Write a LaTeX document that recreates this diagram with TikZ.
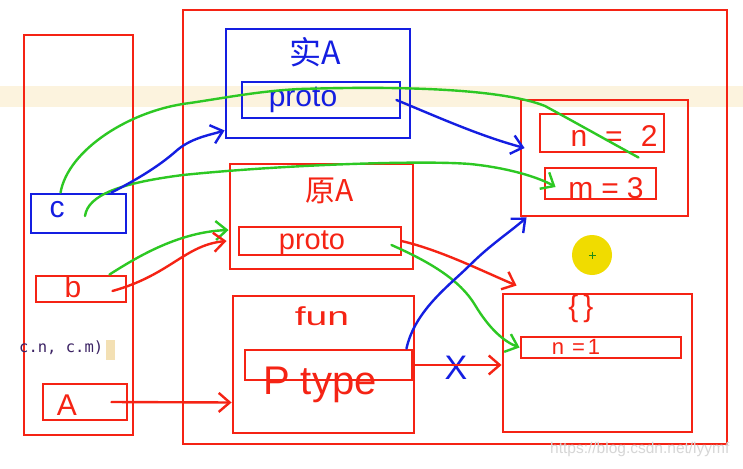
\documentclass[tikz,border=0pt]{standalone}
\usepackage{fontspec}
\setmainfont{Liberation Sans}
\newfontfamily\cjk{Noto Sans CJK SC}
\setmonofont{DejaVu Sans Mono}
\usetikzlibrary{arrows.meta,fit}
\definecolor{hred}{RGB}{245,35,20}
\definecolor{hblue}{RGB}{20,30,225}
\definecolor{hgreen}{RGB}{45,200,35}
\definecolor{bandc}{RGB}{252,243,222}
\definecolor{codec}{RGB}{60,35,100}
\definecolor{cursorc}{RGB}{243,224,180}
\definecolor{wmc}{RGB}{214,214,214}
\definecolor{yelc}{RGB}{240,220,0}
\begin{document}
\begin{tikzpicture}[x=1pt,y=-1pt,
  rbox/.style={draw=hred, line width=2.9pt, inner sep=0pt},
  bbox/.style={draw=hblue, line width=2.9pt, inner sep=0pt},
  lbl/.style={inner sep=0pt},
  conn/.style={line width=2.4pt, line cap=round, line join=round},
  harrow/.style={-{Straight Barb[length=11pt,width=19pt]}},
  rline/.style={conn, hred},
  bline/.style={conn, hblue},
  gline/.style={conn, hgreen}]
\useasboundingbox (0,0) rectangle (743,468);
\fill[white] (0,0) rectangle (743,468);
\fill[bandc] (0,86) rectangle (743,107);
% left stack
\node[rbox, fit={(24,35) (133,435)}] (left) {};
\node[bbox, fit={(31,194) (126,233)}] (cbox) {};
\node[rbox, fit={(36,276) (126,302)}] (bbox) {};
\node[rbox, fit={(43,384) (127,420)}] (abox) {};
\node[lbl, text=hblue, font=\fontsize{30}{30}\selectfont] (cl) at (57,210) {c};
\node[lbl, text=hred, font=\fontsize{30}{30}\selectfont] (bl) at (73,287) {b};
\node[lbl, text=hred, font=\fontsize{30}{30}\selectfont] (al) at (67,405) {A};
\fill[cursorc] (106,340) rectangle (115,360);
\node[lbl, anchor=west, text=codec, font=\ttfamily\fontsize{15.5}{15.5}\selectfont] (code) at (19,348) {c.n, c.m)};
% right area
\node[rbox, fit={(183,10) (727,444)}] (outer) {};
\node[bbox, fit={(226,29) (410,138)}] (inst) {};
\node[bbox, fit={(242,82) (400,118)}] (protoB) {};
\node[rbox, fit={(230,164) (413,269)}] (protoA) {};
\node[rbox, fit={(239,227) (401,255)}] (protoR) {};
\node[rbox, fit={(233,296) (414,433)}] (fun) {};
\node[rbox, fit={(245,350) (412,380)}] (ptype) {};
\node[rbox, fit={(521,100) (688,216)}] (nm) {};
\node[rbox, fit={(540,114) (664,152)}] (n2) {};
\node[rbox, fit={(545,168) (656,199)}] (m3) {};
\node[rbox, fit={(503,294) (692,432)}] (obj) {};
\node[rbox, fit={(521,337) (681,358)}] (n1) {};
\node[lbl, text=hblue, font=\cjk\fontsize{32}{32}\selectfont] (instl) at (315,52) {实A};
\node[lbl, text=hblue, font=\fontsize{30}{30}\selectfont] (protoBl) at (303,100) {proto};
\node[lbl, text=hred, font=\cjk\fontsize{30}{30}\selectfont] (protoAl) at (330,191) {原A};
\node[lbl, text=hred, font=\fontsize{29}{29}\selectfont] (protoRl) at (312,243) {proto};
\node[lbl, text=hred, font=\fontsize{26}{26}\selectfont, xscale=1.5] (funl) at (322,316) {fun};
\node[lbl, anchor=base west, text=hred, font=\fontsize{40}{40}\selectfont] (ptypel) at (263,394) {P type};
\node[lbl, text=hred, font=\fontsize{30}{30}\selectfont] (n2l) at (614,136) {n\hspace{18pt}=\hspace{18pt}2};
\node[lbl, text=hred, font=\fontsize{30}{30}\selectfont] (m3l) at (606,188) {m\hspace{8pt}=\hspace{8pt}3};
\node[lbl, text=hred, font=\fontsize{30}{30}\selectfont] (objl) at (581,309) {\{\,\}};
\node[lbl, text=hred, font=\fontsize{22}{22}\selectfont] (n1l) at (576,347) {n\hspace{8pt}=\hspace{3pt}1};
\node[lbl, text=hblue, font=\fontsize{34}{34}\selectfont] (xl) at (456,368) {X};
% cursor highlight
\fill[yelc] (592,255) circle (20);
\draw[hgreen!70!black, line width=0.8pt] (588.5,255) -- (595.5,255) (592,251.5) -- (592,258.5);
% connectors
\draw[gline] ([xshift=31pt]cbox.north west) .. controls (68,150) and (130,110) .. (190,103)
  .. controls (230,97) and (260,91) .. (300,89)
  .. controls (430,85) and (510,92) .. (545,106)
  .. controls (580,125) and (610,142) .. ([xshift=-27pt,yshift=-4pt]n2.south east);
\draw[gline, harrow] ([xshift=6.5pt,yshift=-2.5pt]cbox.center) .. controls (88,195) and (120,183) .. (183,175)
  .. controls (280,165) and (420,160) .. (470,164)
  .. controls (510,168) and (540,178) .. ([xshift=12pt,yshift=-3.5pt]m3.west);
\draw[bline, harrow] ([xshift=-16pt]cbox.north east) .. controls (140,178) and (160,165) .. (175,152)
  .. controls (190,138) and (210,135) .. ([yshift=9pt]inst.south west);
\draw[bline, harrow] ([xshift=-5pt]protoB.east) .. controls (440,118) and (480,136) .. ([xshift=5pt,yshift=10pt]nm.west);
\draw[gline, harrow] ([xshift=-18pt]bbox.north east) .. controls (140,255) and (180,232) .. ([xshift=-9pt,yshift=11pt]protoR.west);
\draw[rline, harrow] ([xshift=-15pt,yshift=-2pt]bbox.east) .. controls (170,275) and (185,245) .. ([xshift=-11pt]protoR.west);
\draw[rline, harrow] ([xshift=-1pt]protoR.east) .. controls (440,250) and (480,270) .. ([xshift=15pt,yshift=7pt]obj.north west);
\draw[gline, harrow] ([xshift=-11pt,yshift=-4pt]protoR.east) .. controls (430,262) and (460,280) .. (475,305)
  .. controls (490,330) and (505,342) .. (n1.west);
\draw[bline, harrow] ([xshift=-7pt]ptype.north east) .. controls (415,310) and (450,285) .. (470,265)
  .. controls (490,245) and (510,232) .. ([xshift=7pt]nm.south west);
\draw[rline, harrow] (ptype.east) -- ([yshift=-2pt]obj.west);
\draw[rline, harrow] ([xshift=-17pt]abox.east) -- ([yshift=-38pt]fun.west);
\node[lbl, anchor=west, text=wmc, font=\fontsize{15.5}{15.5}\selectfont] (wm) at (550,449) {https://blog.csdn.net/lyymf};
\end{tikzpicture}
\end{document}
